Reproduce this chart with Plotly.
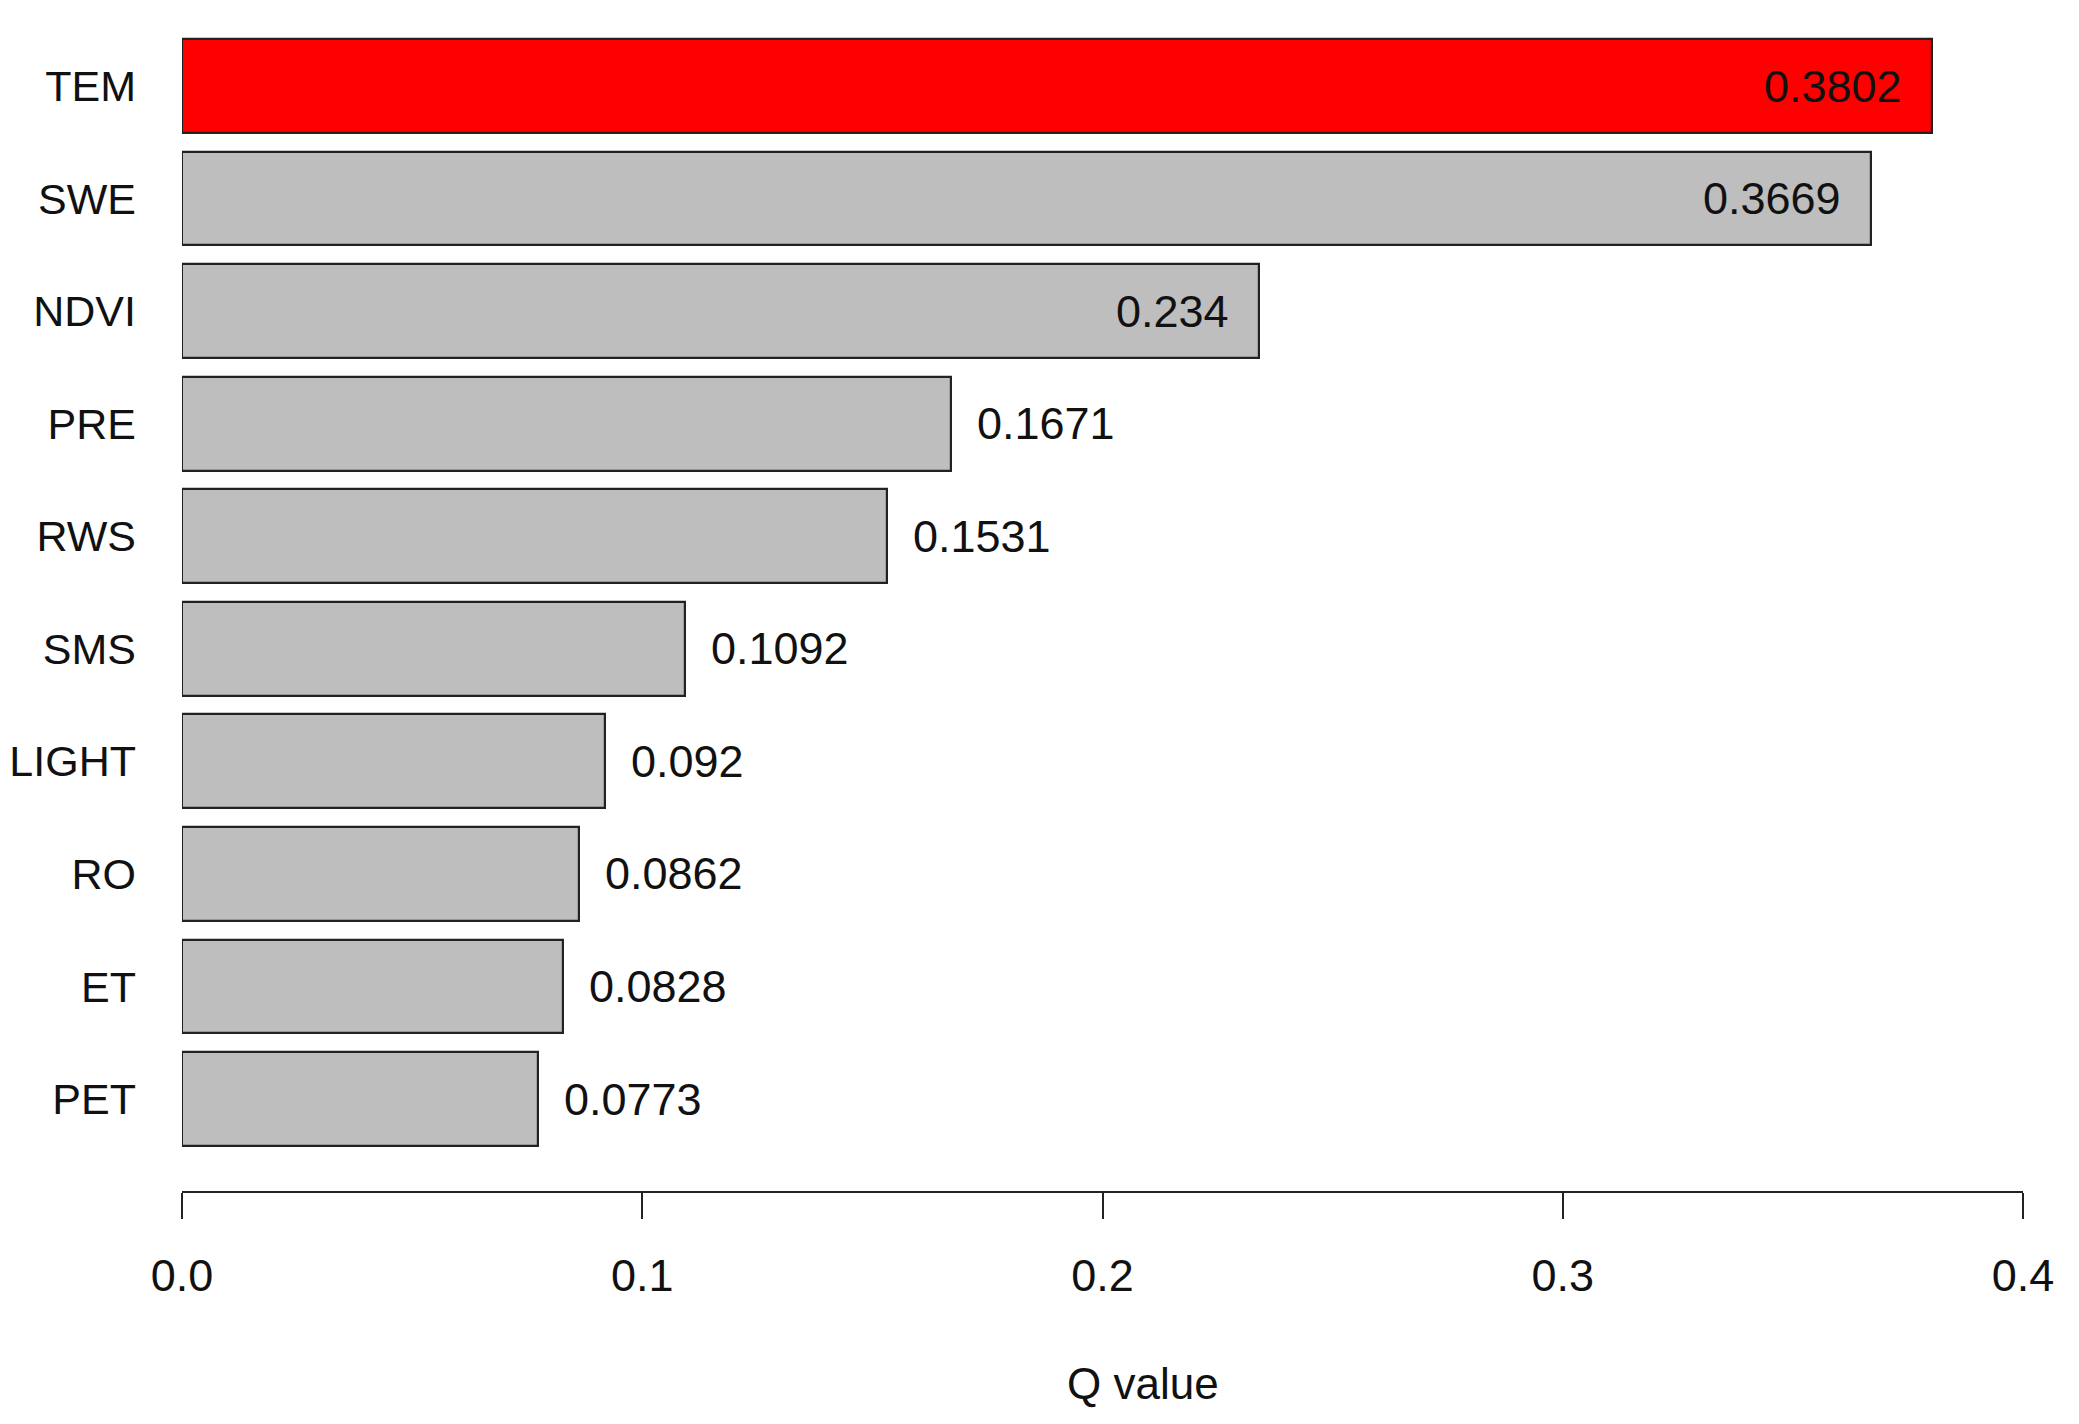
import plotly.graph_objects as go

# Data (top to bottom in the reference)
categories = ["TEM", "SWE", "NDVI", "PRE", "RWS", "SMS", "LIGHT", "RO", "ET", "PET"]
q_values = [0.3802, 0.3669, 0.234, 0.1671, 0.1531, 0.1092, 0.092, 0.0862, 0.0828, 0.0773]
value_labels = ["0.3802", "0.3669", "0.234", "0.1671", "0.1531", "0.1092", "0.092", "0.0862", "0.0828", "0.0773"]
x_ticks = [0.0, 0.1, 0.2, 0.3, 0.4]
x_tick_labels = ["0.0", "0.1", "0.2", "0.3", "0.4"]
inside_labels = {"TEM", "SWE", "NDVI"}

# Plot bottom-up so that TEM is at the top
cats_b = categories[::-1]
vals_b = q_values[::-1]
labs_b = value_labels[::-1]
colors_b = ["#FF0000" if c == "TEM" else "#BEBEBE" for c in cats_b]

FONT = "Liberation Sans, Arial, sans-serif"

fig = go.Figure()
fig.add_trace(go.Bar(
    x=vals_b, y=cats_b, orientation="h",
    marker=dict(color=colors_b, line=dict(color="#222222", width=2.2)),
    width=0.833,
    hoverinfo="x+y",
))

for c, v, lab in zip(cats_b, vals_b, labs_b):
    if c in inside_labels:
        fig.add_annotation(x=v, y=c, text=lab, showarrow=False,
                           xanchor="right", xshift=-28, yanchor="middle",
                           font=dict(family=FONT, size=45, color="#111111"))
    else:
        fig.add_annotation(x=v, y=c, text=lab, showarrow=False,
                           xanchor="left", xshift=24, yanchor="middle",
                           font=dict(family=FONT, size=45, color="#111111"))

fig.add_annotation(xref="paper", yref="paper", x=0.522, y=0, text="Q value",
                   showarrow=False, xanchor="center", yanchor="middle", yshift=-192,
                   font=dict(family=FONT, size=44, color="#111111"))

fig.update_layout(
    width=2071, height=1416,
    margin=dict(l=174, r=56, t=0, b=233, autoexpand=False),
    plot_bgcolor="white", paper_bgcolor="white",
    showlegend=False,
    bargap=0,
)
fig.update_xaxes(
    range=[0, 0.4], tickvals=x_ticks, ticktext=x_tick_labels,
    showline=True, linecolor="#222222", linewidth=2.2,
    ticks="outside", ticklen=26, tickwidth=2.2, tickcolor="#222222",
    ticklabelstandoff=18, automargin=False,
    showgrid=False, zeroline=False,
    tickfont=dict(family=FONT, size=45, color="#111111"),
)
fig.update_yaxes(
    type="category", categoryorder="array", categoryarray=cats_b,
    range=[-0.817, 9.693], automargin=False,
    showline=False, showgrid=False, zeroline=False, ticks="",
    ticklabelstandoff=45,
    tickfont=dict(family=FONT, size=43, color="#111111"),
)

fig.write_html("out.html")
